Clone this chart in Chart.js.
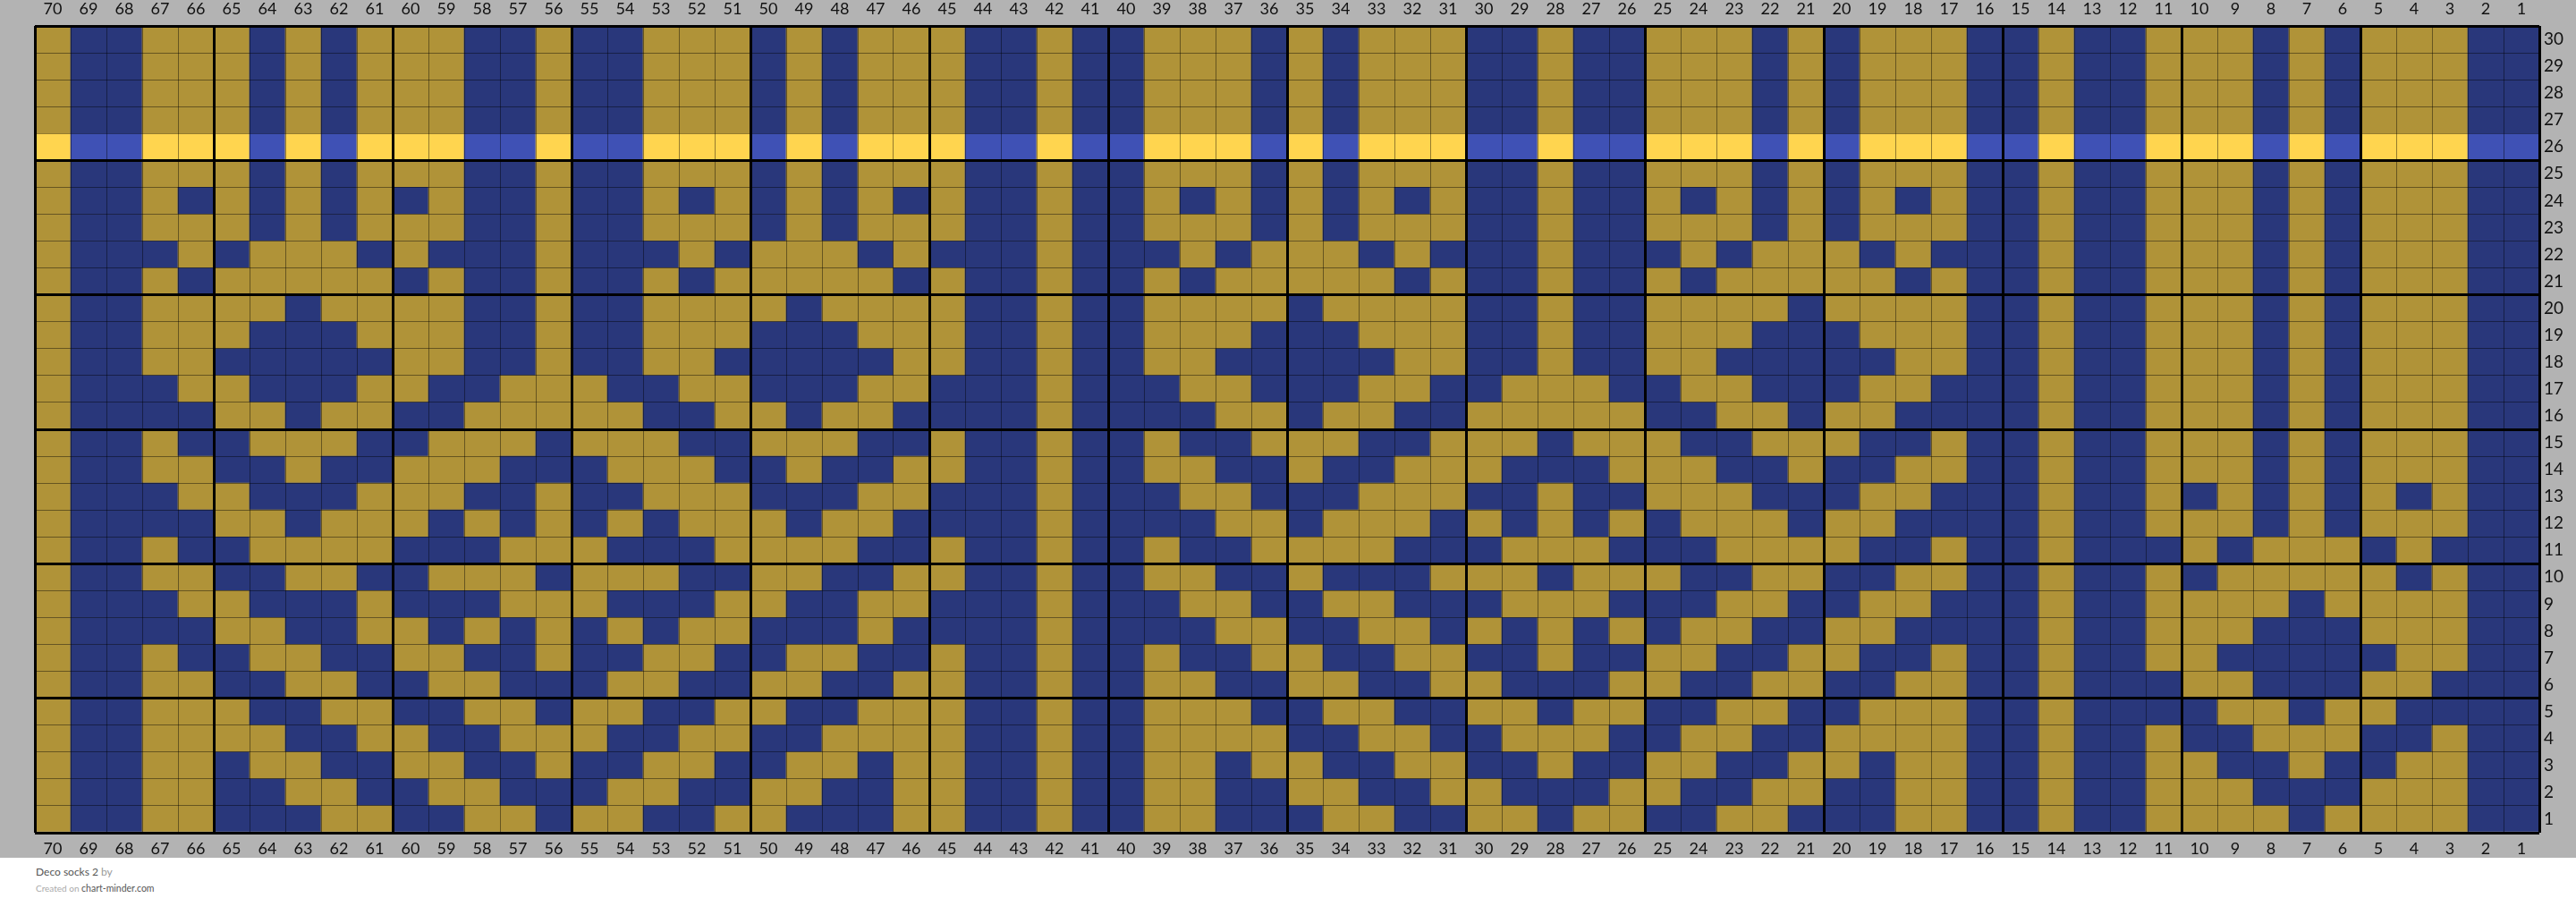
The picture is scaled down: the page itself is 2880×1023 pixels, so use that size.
<!DOCTYPE html>
<html>
<head>
<meta charset="utf-8">
<title>Deco socks 2</title>
<script src="https://cdn.jsdelivr.net/npm/chart.js@4.4.1/dist/chart.umd.min.js"></script>
<style>
  body { margin: 0; background: #fff; font-family: Lato, sans-serif; }
  #wrap { width: 2880px; height: 959px; background: #b3b3b3; position: relative; }
  #footer { position: relative; height: 64px; }
  #footer .t1 { position: absolute; left: 40px; top: 7px; font-size: 12px; line-height: 18px; color: #555; }
  #footer .t1 .by { color: #9a9a9a; }
  #footer .t2 { position: absolute; left: 40px; top: 26px; font-size: 10px; line-height: 16px; color: #aaa; }
  #footer .t2 .site { color: #555; font-size: 10.5px; }
</style>
</head>
<body>
<div id="wrap"><canvas id="chart"></canvas></div>
<div id="footer">
  <div class="t1">Deco socks 2 <span class="by">by</span></div>
  <div class="t2">Created on <span class="site">chart-minder.com</span></div>
</div>
<script>
// stitch numbers, left to right is 70 .. 1
const colLabels = Array.from({ length: 70 }, (_, i) => String(70 - i));
// row numbers, bottom to top is 1 .. 30
const rowLabels = Array.from({ length: 30 }, (_, i) => String(i + 1));
const highlightRow = 26;

// chart rows from row 30 (top) down to row 1, Y = gold, B = blue
const pattern = [
  'YBBYYYBYBYYYBBYBB YYYBYBYYY BBYBB YYYBYBYYYBBYBBYYYB YBYYY BBYBB YYYBYBYYY BB', // 30
  'YBBYYYBYBYYYBBYBB YYYBYBYYY BBYBB YYYBYBYYYBBYBBYYYB YBYYY BBYBB YYYBYBYYY BB', // 29
  'YBBYYYBYBYYYBBYBB YYYBYBYYY BBYBB YYYBYBYYYBBYBBYYYB YBYYY BBYBB YYYBYBYYY BB', // 28
  'YBBYYYBYBYYYBBYBB YYYBYBYYY BBYBB YYYBYBYYYBBYBBYYYB YBYYY BBYBB YYYBYBYYY BB', // 27
  'YBBYYYBYBYYYBBYBB YYYBYBYYY BBYBB YYYBYBYYYBBYBBYYYB YBYYY BBYBB YYYBYBYYY BB', // 26
  'YBBYYYBYBYYYBBYBB YYYBYBYYY BBYBB YYYBYBYYYBBYBBYYYB YBYYY BBYBB YYYBYBYYY BB', // 25
  'YBBYBYBYBYBYBBYBB YBYBYBYBY BBYBB YBYBYBYBYBBYBBYBYB YBYBY BBYBB YYYBYBYYY BB', // 24
  'YBBYYYBYBYYYBBYBB YYYBYBYYY BBYBB YYYBYBYYYBBYBBYYYB YBYYY BBYBB YYYBYBYYY BB', // 23
  'YBBBYBYYYBYBBBYBB BYBYYYBYB BBYBB BYBYYYBYBBBYBBBYBY YYBYB BBYBB YYYBYBYYY BB', // 22
  'YBBYBYYYYYBYBBYBB YBYYYYYBY BBYBB YBYYYYYBYBBYBBYBYY YYYBY BBYBB YYYBYBYYY BB', // 21
  'YBBYYYYBYYYYBBYBB YYYYBYYYY BBYBB YYYYBYYYYBBYBBYYYY BYYYY BBYBB YYYBYBYYY BB', // 20
  'YBBYYYBBBYYYBBYBB YYYBBBYYY BBYBB YYYBBBYYYBBYBBYYYB BBYYY BBYBB YYYBYBYYY BB', // 19
  'YBBYYBBBBBYYBBYBB YYBBBBBYY BBYBB YYBBBBBYYBBYBBYYBB BBBYY BBYBB YYYBYBYYY BB', // 18
  'YBBBYYBBBYYBBYYYB BYYBBBYYB BBYBB BYYBBBYYBBYYYBBYYB BBYYB BBYBB YYYBYBYYY BB', // 17
  'YBBBBYYBYYBBYYYYY BBYYBYYBB BBYBB BBYYBYYBBYYYYYBBYY BYYBB BBYBB YYYBYBYYY BB', // 16
  'YBBYBBYYYBBYYYBYY YBBYYYBBY BBYBB YBBYYYBBYYYBYYYBBY YYBBY BBYBB YYYBYBYYY BB', // 15
  'YBBYYBBYBBYYYBBBY YYBBYBBYY BBYBB YYBBYBBYYYBBBYYYBB YBBYY BBYBB YYYBYBYYY BB', // 14
  'YBBBYYBBBYYYBBYBB YYYBBBYYB BBYBB BYYBBBYYYBBYBBYYYB BBYYB BBYBB YBYBYBYBY BB', // 13
  'YBBBBYYBYYYBYBYBY BYYYBYYBB BBYBB BBYYBYYYBYBYBYBYYY BYYBB BBYBB YYYBYBYYY BB', // 12
  'YBBYBBYYYYBBBYYYB BBYYYYBBY BBYBB YBBYYYYBBBYYYBBBYY YYBBY BBYBB BYBYYYBYB BB', // 11
  'YBBYYBBYYBBYYYBYY YBBYYBBYY BBYBB YYBBYBBBYYYBYYYBBY YBBYY BBYBB YBYYYYYBY BB', // 10
  'YBBBYYBBBYBBBYYYB BBYYBBYYB BBYBB BYYBBYYBBBYYYBBBYY BBYYB BBYBB YYYYBYYYY BB', // 9
  'YBBBBYYBBYYBYBYBY BYYBBBYBB BBYBB BBYYBBYYBYBYBYBYYB BYYBB BBYBB YYYBBBYYY BB', // 8
  'YBBYBBYYBBYYBBYBB YYBBYYBBY BBYBB YBBYYBBYYBBYBBYYBB YYBBY BBYBB YYBBBBBYY BB', // 7
  'YBBYYBBYYBBYYBBBY YBBYYBBYY BBYBB YYBBYYBBYYBBBYYBBY YBBYY BBYBB BYYBBBYYB BB', // 6
  'YBBYYYBBYYBBYYBYY BBYYBBYYY BBYBB YYYBBYYBBYYBYYBBYY BBYYY BBYBB BBYYBYYBB BB', // 5
  'YBBYYYYBBYYBBYYYB BYYBBYYYY BBYBB YYYYBBYYBBYYYBBYYB BYYYY BBYBB YBBYYYBBY BB', // 4
  'YBBYYBYYBBYYBBYBB YYBBYYBYY BBYBB YYBYYBBYYBBYBBYYBB YYBYY BBYBB YYBBYBBYY BB', // 3
  'YBBYYBBYYBBYYBBBY YBBYYBBYY BBYBB YYBBYYBBYYBBBYYBBY YBBYY BBYBB YYYBBBYYY BB', // 2
  'YBBYYBBBYYBBYYBYY BBYYBBBYY BBYBB YYBBBYYBBYYBYYBBYY BBBYY BBYBB YYYYBYYYY BB'  // 1
].map(r => r.replace(/ /g, ''));

const colors = {
  Y: '#b09338',
  B: '#29377b',
  hiY: '#ffd54f',
  hiB: '#3f51b5'
};

document.addEventListener('DOMContentLoaded', function () {
  const ctx = document.getElementById('chart').getContext('2d');

  // one stacked dataset per chart row, row 1 at the bottom of the stack
  const datasets = rowLabels.map((label, i) => {
    const rowNum = i + 1;
    const cells = pattern[30 - rowNum].split('');
    const hi = rowNum === highlightRow;
    return {
      label: 'Row ' + label,
      data: cells.map(() => 1),
      backgroundColor: cells.map(c => hi ? colors['hi' + c] : colors[c]),
      borderWidth: 0,
      barPercentage: 1,
      categoryPercentage: 1
    };
  });

  const thin = 'rgba(0,0,0,0.42)';
  const tickFont = { family: 'Lato', size: 18 };

  new Chart(ctx, {
    type: 'bar',
    data: { labels: colLabels, datasets: datasets },
    options: {
      responsive: true,
      maintainAspectRatio: false,
      animation: false,
      layout: { padding: 0 },
      plugins: { legend: { display: false }, tooltip: { enabled: false } },
      scales: {
        x: {
          stacked: true,
          position: 'bottom',
          grid: {
            z: 1,
            offset: true,
            drawTicks: false,
            color: c => (c.index === undefined || c.index % 5 === 0) ? '#000' : thin,
            lineWidth: c => (c.index === undefined || c.index % 5 === 0) ? 3 : 1
          },
          border: { display: false },
          ticks: { autoSkip: false, maxRotation: 0, color: '#111', font: tickFont, padding: 7 },
          afterFit: s => { s.height = 28; }
        },
        xTop: {
          type: 'category',
          position: 'top',
          offset: true,
          grid: { display: false, drawTicks: false },
          border: { display: false },
          ticks: { autoSkip: false, maxRotation: 0, color: '#111', font: tickFont, padding: 8 },
          afterFit: s => { s.height = 29; }
        },
        y: {
          stacked: true,
          min: 0,
          max: 30,
          position: 'left',
          grid: {
            z: 1,
            drawTicks: false,
            color: c => c.tick && c.tick.value % 5 === 0 ? '#000' : thin,
            lineWidth: c => c.tick && c.tick.value % 5 === 0 ? 3 : 1
          },
          border: { display: false },
          ticks: { display: false, stepSize: 1 },
          afterFit: s => { s.width = 39; }
        },
        yRight: {
          type: 'category',
          position: 'right',
          labels: rowLabels.slice().reverse(),
          offset: true,
          grid: { display: false, drawTicks: false },
          border: { display: false },
          ticks: { autoSkip: false, color: '#111', font: { family: 'Lato', size: 19 }, padding: 5 },
          afterFit: s => { s.width = 41; }
        }
      }
    }
  });
});
</script>
</body>
</html>
